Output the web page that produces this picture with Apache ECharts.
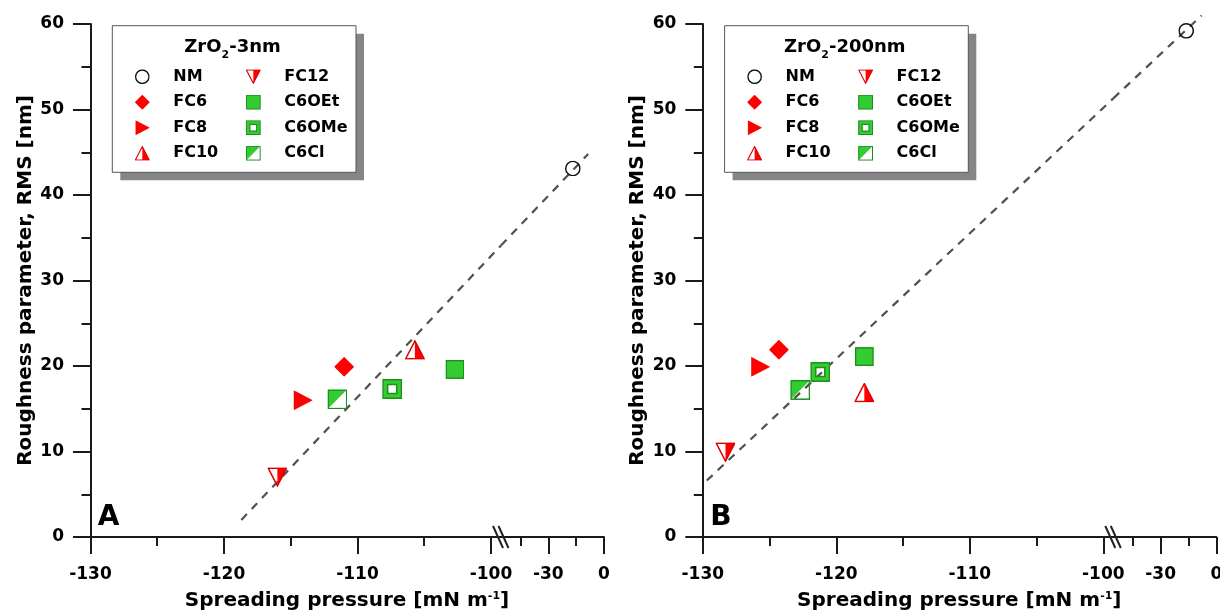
<!DOCTYPE html>
<html><head><meta charset="utf-8">
<script src="https://cdn.jsdelivr.net/npm/echarts@6/dist/echarts.min.js"></script>
<style>html,body{margin:0;padding:0;background:#fff}#c{width:1220px;height:613px}</style>
</head><body><div id="c"></div>
<script>
// ---------- data ----------
const markerNames = ['NM', 'FC6', 'FC8', 'FC10', 'FC12', 'C6OEt', 'C6OMe', 'C6Cl'];
const spreadA = [-16.8, -111.0, -114.1, -105.7, -116.0, -102.7, -107.4, -111.5];
const rmsA    = [43.1, 19.9, 16.0, 21.9, 7.0, 19.6, 17.3, 16.1];
const spreadB = [-16.2, -124.3, -125.7, -117.9, -128.3, -117.9, -121.2, -122.7];
const rmsB    = [59.2, 21.9, 19.9, 16.9, 9.9, 21.1, 19.3, 17.2];
const fitLeftA  = [[-118.7, 2.0], [-99.25, 34.1]];
const fitRightA = [[-55.5, 34.1], [-8.5, 44.8]];
const fitLeftB  = [[-129.7, 6.6], [-99.25, 51.3]];
const fitRightB = [[-55.5, 51.3], [-7.9, 61.0]];
const xMajorLeft = [-130, -120, -110, -100];
const xMinorLeft = [-125, -115, -105];
const xMajorRight = [-30, 0];
const xMinorRight = [-45, -15];
const yMajor = [0, 10, 20, 30, 40, 50, 60];
const yMinor = [5, 15, 25, 35, 45, 55];
const leftExtent = [-130, -99.25];
const rightExtent = [-55.5, 0];
const yExtent = [0, 60];
const legendCol1 = ['NM', 'FC6', 'FC8', 'FC10'];
const legendCol2 = ['FC12', 'C6OEt', 'C6OMe', 'C6Cl'];

// ---------- style ----------
const FONT = '"DejaVu Sans", sans-serif';
const RED = '#ff0000', REDD = '#dd0000', GREEN = '#33cc33', GREEND = '#1c8f1c';
function svgURI(inner) {
  return 'image://data:image/svg+xml;charset=utf-8,' + encodeURIComponent(
    '<svg xmlns="http://www.w3.org/2000/svg" width="40" height="40" viewBox="0 0 20 20">' + inner + '</svg>');
}
const symbols = {
  NM: svgURI('<circle cx="10" cy="10" r="8.9" fill="none" stroke="#111" stroke-width="1.8"/>'),
  FC6: svgURI('<polygon points="10,0 20,10 10,20 0,10" fill="' + RED + '"/>'),
  FC8: svgURI('<polygon points="1,0 20,10 1,20" fill="' + RED + '"/>'),
  FC10: svgURI('<polygon points="10,1 10,19 19.2,19" fill="' + RED + '"/><polygon points="10,1.2 19.2,19 0.8,19" fill="none" stroke="' + REDD + '" stroke-width="1.5"/>'),
  FC12: svgURI('<polygon points="10,19 10,1 19.2,1" fill="' + RED + '"/><polygon points="0.8,1 19.2,1 10,18.8" fill="none" stroke="' + REDD + '" stroke-width="1.5"/>'),
  C6OEt: svgURI('<rect x="0.75" y="0.75" width="18.5" height="18.5" fill="' + GREEN + '" stroke="' + GREEND + '" stroke-width="1.5"/>'),
  C6OMe: svgURI('<path d="M0.75,0.75H19.25V19.25H0.75Z M5.5,5.5V14.5H14.5V5.5Z" fill="' + GREEN + '" fill-rule="evenodd" stroke="' + GREEND + '" stroke-width="1.5"/>'),
  C6Cl: svgURI('<polygon points="0.75,0.75 19.25,0.75 0.75,19.25" fill="' + GREEN + '"/><rect x="0.75" y="0.75" width="18.5" height="18.5" fill="none" stroke="' + GREEND + '" stroke-width="1.5"/>')
};
const symbolSizes = { NM: 16, FC6: 20, FC8: 20, FC10: 20, FC12: 20, C6OEt: 19, C6OMe: 20, C6Cl: 20 };

// ---------- layout ----------
const GRID_TOP = 24, GRID_H = 513, LEFT0 = 90.5, LEFT_W = 410.5, RIGHT_W = 103, PANEL_DX = 612.3;
const AXIS_COLOR = '#1a1a1a';

const panels = [
  { sub: '-3nm', letter: 'A', spread: spreadA, rms: rmsA, fitL: fitLeftA, fitR: fitRightA },
  { sub: '-200nm', letter: 'B', spread: spreadB, rms: rmsB, fitL: fitLeftB, fitR: fitRightB }
];

const labelStyle = { fontFamily: FONT, fontWeight: 'bold', fontSize: 17, color: '#000' };
function xAxisDef(grid, ext, ticks, major) {
  return {
    type: 'value', gridIndex: grid, min: ext[0], max: ext[1], position: 'bottom',
    axisLine: { show: major, onZero: false, lineStyle: { color: AXIS_COLOR, width: 2 } },
    axisTick: { show: true, customValues: ticks, length: major ? 17 : 9, lineStyle: { color: AXIS_COLOR, width: 2 } },
    axisLabel: major ? Object.assign({ customValues: ticks, margin: 29.5 }, labelStyle) : { show: false },
    splitLine: { show: false }, minorTick: { show: false }
  };
}
function yAxisDef(grid, ticks, major, name) {
  const a = {
    type: 'value', gridIndex: grid, min: yExtent[0], max: yExtent[1], position: 'left',
    axisLine: { show: major, onZero: false, lineStyle: { color: AXIS_COLOR, width: 2 } },
    axisTick: { show: true, customValues: ticks, length: major ? 17.5 : 9, lineStyle: { color: AXIS_COLOR, width: 2 } },
    axisLabel: major ? Object.assign({ customValues: ticks, margin: 26.5 }, labelStyle) : { show: false },
    splitLine: { show: false }
  };
  if (name) {
    a.name = name; a.nameLocation = 'middle'; a.nameGap = 55;
    a.nameTextStyle = { fontFamily: FONT, fontWeight: 'bold', fontSize: 20, color: '#000' };
  }
  return a;
}

const grids = [], xAxes = [], yAxes = [], series = [], legends = [], graphics = [];
panels.forEach((p, pi) => {
  const ox = pi * PANEL_DX;
  const gL = grids.length;
  grids.push({ left: LEFT0 + ox, top: GRID_TOP, width: LEFT_W, height: GRID_H, outerBoundsMode: 'none', containLabel: false });
  grids.push({ left: LEFT0 + LEFT_W + ox, top: GRID_TOP, width: RIGHT_W, height: GRID_H, outerBoundsMode: 'none', containLabel: false });
  const gR = gL + 1;
  const xL = xAxes.length;
  xAxes.push(xAxisDef(gL, leftExtent, xMajorLeft, true));
  xAxes.push(xAxisDef(gL, leftExtent, xMinorLeft, false));
  const xR = xAxes.length;
  xAxes.push(xAxisDef(gR, rightExtent, xMajorRight, true));
  xAxes.push(xAxisDef(gR, rightExtent, xMinorRight, false));
  const yL = yAxes.length;
  yAxes.push(yAxisDef(gL, yMajor, true, 'Roughness parameter, RMS [nm]'));
  yAxes.push(yAxisDef(gL, yMinor, false));
  const yR = yAxes.length;
  yAxes.push({ type: 'value', gridIndex: gR, min: yExtent[0], max: yExtent[1], show: false });

  const lineStyle = { color: '#505050', width: 2.2, type: [8, 7], opacity: 1 };
  series.push({ type: 'line', name: 'fit', xAxisIndex: xL, yAxisIndex: yL, data: p.fitL, symbol: 'none', clip: false, lineStyle, z: 1, silent: true });
  series.push({ type: 'line', name: 'fit', xAxisIndex: xR, yAxisIndex: yR, data: p.fitR, symbol: 'none', clip: false, lineStyle, z: 1, silent: true });

  markerNames.forEach((n, i) => {
    const x = p.spread[i], y = p.rms[i];
    const right = x >= rightExtent[0];
    series.push({
      type: 'scatter', name: n, xAxisIndex: right ? xR : xL, yAxisIndex: right ? yR : yL,
      data: [[x, y]], symbol: symbols[n], symbolSize: symbolSizes[n], symbolKeepAspect: true,
      itemStyle: { opacity: 1 }, z: 3, silent: true
    });
  });

  const legBase = {
    orient: 'vertical', top: 67.7, itemWidth: 52, itemHeight: 15, itemGap: 7.5, padding: 0,
    selectedMode: false, symbolKeepAspect: true, z: 8, itemStyle: { opacity: 1 },
    textStyle: { fontFamily: FONT, fontWeight: 'bold', fontSize: 16, color: '#000', lineHeight: 18 }
  };
  legends.push(Object.assign({}, legBase, { left: 116.3 + ox, data: legendCol1.map(n => ({ name: n, icon: symbols[n] })) }));
  legends.push(Object.assign({}, legBase, { left: 227.3 + ox, data: legendCol2.map(n => ({ name: n, icon: symbols[n] })) }));

  // legend frame + shadow
  const bx = 112.3 + ox, by = 25.7, bw = 243.7, bh = 146.6;
  graphics.push({ type: 'rect', z: 5, silent: true, shape: { x: bx + 8, y: by + 8, width: bw, height: bh }, style: { fill: '#858585' } });
  graphics.push({ type: 'rect', z: 6, silent: true, shape: { x: bx, y: by, width: bw, height: bh }, style: { fill: '#fff', stroke: '#555', lineWidth: 1 } });
  graphics.push({
    type: 'text', z: 9, silent: true, x: 232.5 + ox, y: 38,
    style: {
      text: '{b|ZrO}{s|2}{b|' + p.sub + '}', align: 'center', textAlign: 'center', verticalAlign: 'top', textVerticalAlign: 'top',
      rich: {
        b: { fontFamily: FONT, fontWeight: 'bold', fontSize: 18, lineHeight: 18, verticalAlign: 'top', fill: '#000' },
        s: { fontFamily: FONT, fontWeight: 'bold', fontSize: 11, lineHeight: 23, verticalAlign: 'bottom', fill: '#000' }
      }
    }
  });
  // panel letter
  graphics.push({
    type: 'text', z: 9, silent: true, x: 108.5 + ox, y: 517.3,
    style: { text: p.letter, font: 'bold 28px ' + FONT, fill: '#000', align: 'center', textAlign: 'center', verticalAlign: 'middle', textVerticalAlign: 'middle' }
  });
  // x axis title
  graphics.push({
    type: 'text', z: 9, silent: true, x: 347 + ox, y: 600.5,
    style: {
      text: '{b|Spreading pressure [mN m}{s|-1}{b|]}', align: 'center', textAlign: 'center', verticalAlign: 'middle', textVerticalAlign: 'middle',
      rich: {
        b: { fontFamily: FONT, fontWeight: 'bold', fontSize: 20, lineHeight: 20, verticalAlign: 'bottom', fill: '#000' },
        s: { fontFamily: FONT, fontWeight: 'bold', fontSize: 11, lineHeight: 12, verticalAlign: 'top', fill: '#000' }
      }
    }
  });
  // axis break mark
  const bk = LEFT0 + LEFT_W + ox, ay = GRID_TOP + GRID_H;
  graphics.push({ type: 'line', z: 9, silent: true, shape: { x1: bk - 8, y1: ay - 11, x2: bk + 2, y2: ay + 11 }, style: { stroke: '#222', lineWidth: 2 } });
  graphics.push({ type: 'line', z: 9, silent: true, shape: { x1: bk - 2.5, y1: ay - 11, x2: bk + 7.5, y2: ay + 11 }, style: { stroke: '#222', lineWidth: 2 } });
});

const chart = echarts.init(document.getElementById('c'), null, { renderer: 'canvas' });
chart.setOption({
  backgroundColor: '#fff',
  animation: false,
  tooltip: { show: false },
  grid: grids, xAxis: xAxes, yAxis: yAxes, series: series, legend: legends, graphic: graphics
});
</script></body></html>
